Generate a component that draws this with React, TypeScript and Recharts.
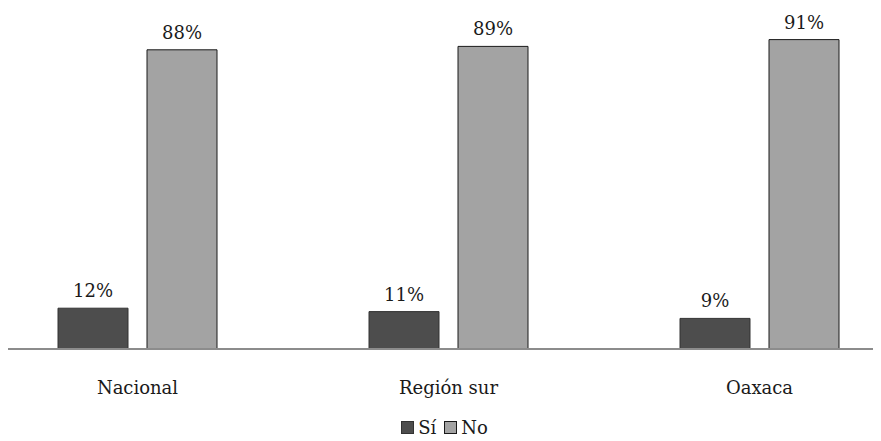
import { Bar, BarChart, LabelList, Legend, XAxis, YAxis } from "recharts";

const CATEGORIES = ["Nacional", "Región sur", "Oaxaca"];
const SI_VALUES = [12, 11, 9];
const NO_VALUES = [88, 89, 91];
const SERIES = [
  { key: "si", label: "Sí", fill: "#4d4d4d", stroke: "#333333" },
  { key: "no", label: "No", fill: "#a3a3a3", stroke: "#1a1a1a" },
];

const FONT = "'DejaVu Serif', serif";

const data = CATEGORIES.map((name, i) => ({ name, si: SI_VALUES[i], no: NO_VALUES[i] }));

function CategoryTick(props: any) {
  const { x, y, payload } = props;
  return (
    <text x={x} y={y} dy={45} textAnchor="middle" fill="#1a1a1a" style={{ fontSize: 18, fontFamily: FONT }}>
      {payload.value}
    </text>
  );
}

function LegendContent() {
  return (
    <div
      style={{
        display: "flex",
        justifyContent: "center",
        alignItems: "center",
        height: 28,
        fontFamily: FONT,
        fontSize: 18,
        color: "#1a1a1a",
      }}
    >
      {SERIES.map((s) => (
        <span key={s.key} style={{ display: "inline-flex", alignItems: "center", marginRight: 8 }}>
          <span
            style={{
              display: "inline-block",
              width: 11,
              height: 11,
              background: s.fill,
              border: `1px solid ${s.stroke}`,
              marginRight: 4,
            }}
          />
          {s.label}
        </span>
      ))}
    </div>
  );
}

export default function App() {
  return (
    <div style={{ width: 873, height: 433, overflow: "hidden", fontFamily: FONT }}>
      <div style={{ marginLeft: -26 }}>
        <BarChart
          width={933}
          height={433}
          data={data}
          margin={{ top: 1, right: 0, bottom: 0, left: 0 }}
          barSize={70}
          barGap={19}
          style={{ fontFamily: FONT }}
        >
          <XAxis
            dataKey="name"
            axisLine={{ stroke: "#8c8c8c", strokeWidth: 2 }}
            tickLine={false}
            tickSize={0}
            tickMargin={0}
            height={64}
            interval={0}
            tick={<CategoryTick />}
          />
          <YAxis hide domain={[0, 100]} />
          <Legend verticalAlign="bottom" height={28} content={<LegendContent />} />
          {SERIES.map((s) => (
            <Bar
              key={s.key}
              dataKey={s.key}
              name={s.label}
              fill={s.fill}
              stroke={s.stroke}
              strokeWidth={1}
              isAnimationActive={false}
            >
              <LabelList
                dataKey={s.key}
                position="top"
                offset={11}
                formatter={(v: any) => `${v}%`}
                fill="#1a1a1a"
                style={{ fontSize: 18, fontFamily: FONT }}
              />
            </Bar>
          ))}
        </BarChart>
      </div>
    </div>
  );
}
